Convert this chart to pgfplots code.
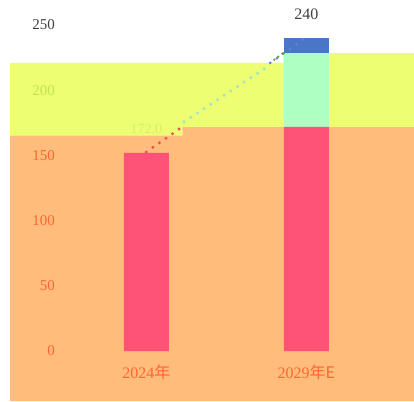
\documentclass[border=0pt]{standalone}
\usepackage{pgfplots}
\pgfplotsset{compat=1.18}
\usepackage{fontspec}
\setmainfont{Liberation Serif}
\newfontfamily\cjk{Noto Sans CJK SC}
\definecolor{bgor}{HTML}{FFBC7A}
\definecolor{bgye}{HTML}{EDFE72}
\definecolor{barpk}{HTML}{FF5277}
\definecolor{barmi}{HTML}{ADFFC2}
\definecolor{barbl}{HTML}{4A76C8}
\definecolor{tickor}{HTML}{FF6633}
\definecolor{tickye}{HTML}{C2E350}
\definecolor{tickgr}{HTML}{404040}
\definecolor{dotrd}{HTML}{E8505E}
\definecolor{dotcy}{HTML}{9FE6C8}
\definecolor{dotbl}{HTML}{5B86D6}
\definecolor{dotgr}{HTML}{5FA03A}
\definecolor{lblye}{HTML}{D6EE6A}
\begin{document}
\begin{tikzpicture}[x=1pt,y=1pt]
\path[use as bounding box] (0,0) rectangle (414,401);
\begin{axis}[
  at={(10pt,0pt)}, anchor=south west,
  scale only axis, width=404pt, height=401pt,
  xmin=-0.852, xmax=1.673, ymin=-38.3, ymax=269.2,
  axis line style={draw=none}, major tick length=0pt, tick style={draw=none},
  xtick={0,1},
  xticklabels={{\textcolor{tickor}{2024\cjk{年}}},{\textcolor{tickor}{2029\cjk{年}E}}},
  ytick={0,50,100,150,200,250},
  yticklabels={\textcolor{tickor}{0},\textcolor{tickor}{50},\textcolor{tickor}{100},\textcolor{tickor}{150},\textcolor{tickye}{200},\textcolor{tickgr}{250}},
  xticklabel style={anchor=center, yshift=29pt, font=\fontsize{16}{18}\selectfont},
  yticklabel style={anchor=east, inner sep=0pt, xshift=45pt, font=\fontsize{15}{17}\selectfont},
  axis on top, clip=false,
]
% background bands
\addplot[fill=bgor, draw=none] coordinates {(-0.852,-38.3) (-0.852,165.3) (0.225,165.3) (0.225,172) (1.673,172) (1.673,-38.3)} -- cycle;
\addplot[fill=bgye, draw=none] coordinates {(-0.852,165.3) (-0.852,221) (0.856,221) (0.856,228.5) (1.673,228.5) (1.673,172) (0.225,172) (0.225,165.3)} -- cycle;
% connecting dotted lines
\addplot[dotrd, line width=3.3pt, line cap=round, dash pattern=on 0pt off 8pt] coordinates {(0,152.6) (0.223,171.8)};
\addplot[dotcy, line width=3.3pt, line cap=round, dash pattern=on 0pt off 8pt] coordinates {(0.236,175.8) (0.745,217)};
\addplot[dotgr, line width=2.5pt, line cap=round, dash pattern=on 0pt off 5pt] coordinates {(0.80,223.5) (0.86,229)};
% bars (drawn overlapping to form the stack)
\addplot[ybar, bar width=0.281, bar shift=0pt, fill=barbl, draw=none] coordinates {(1,240)};
\addplot[ybar, bar width=0.281, bar shift=0pt, fill=barmi, draw=none] coordinates {(1,228.5)};
\addplot[ybar, bar width=0.281, bar shift=0pt, fill=barpk, draw=none] coordinates {(0,152) (1,172)};
\addplot[dotbl, line width=3pt, line cap=round, dash pattern=on 0pt off 8pt] coordinates {(0.775,221) (0.98,239)};
% labels
\node[text=tickgr, font=\fontsize{16}{18}\selectfont] at (axis cs:1,258.4) {240};
\node[text=lblye, font=\fontsize{14}{16}\selectfont] at (axis cs:0,170) {172.0};
\end{axis}
\end{tikzpicture}
\end{document}
